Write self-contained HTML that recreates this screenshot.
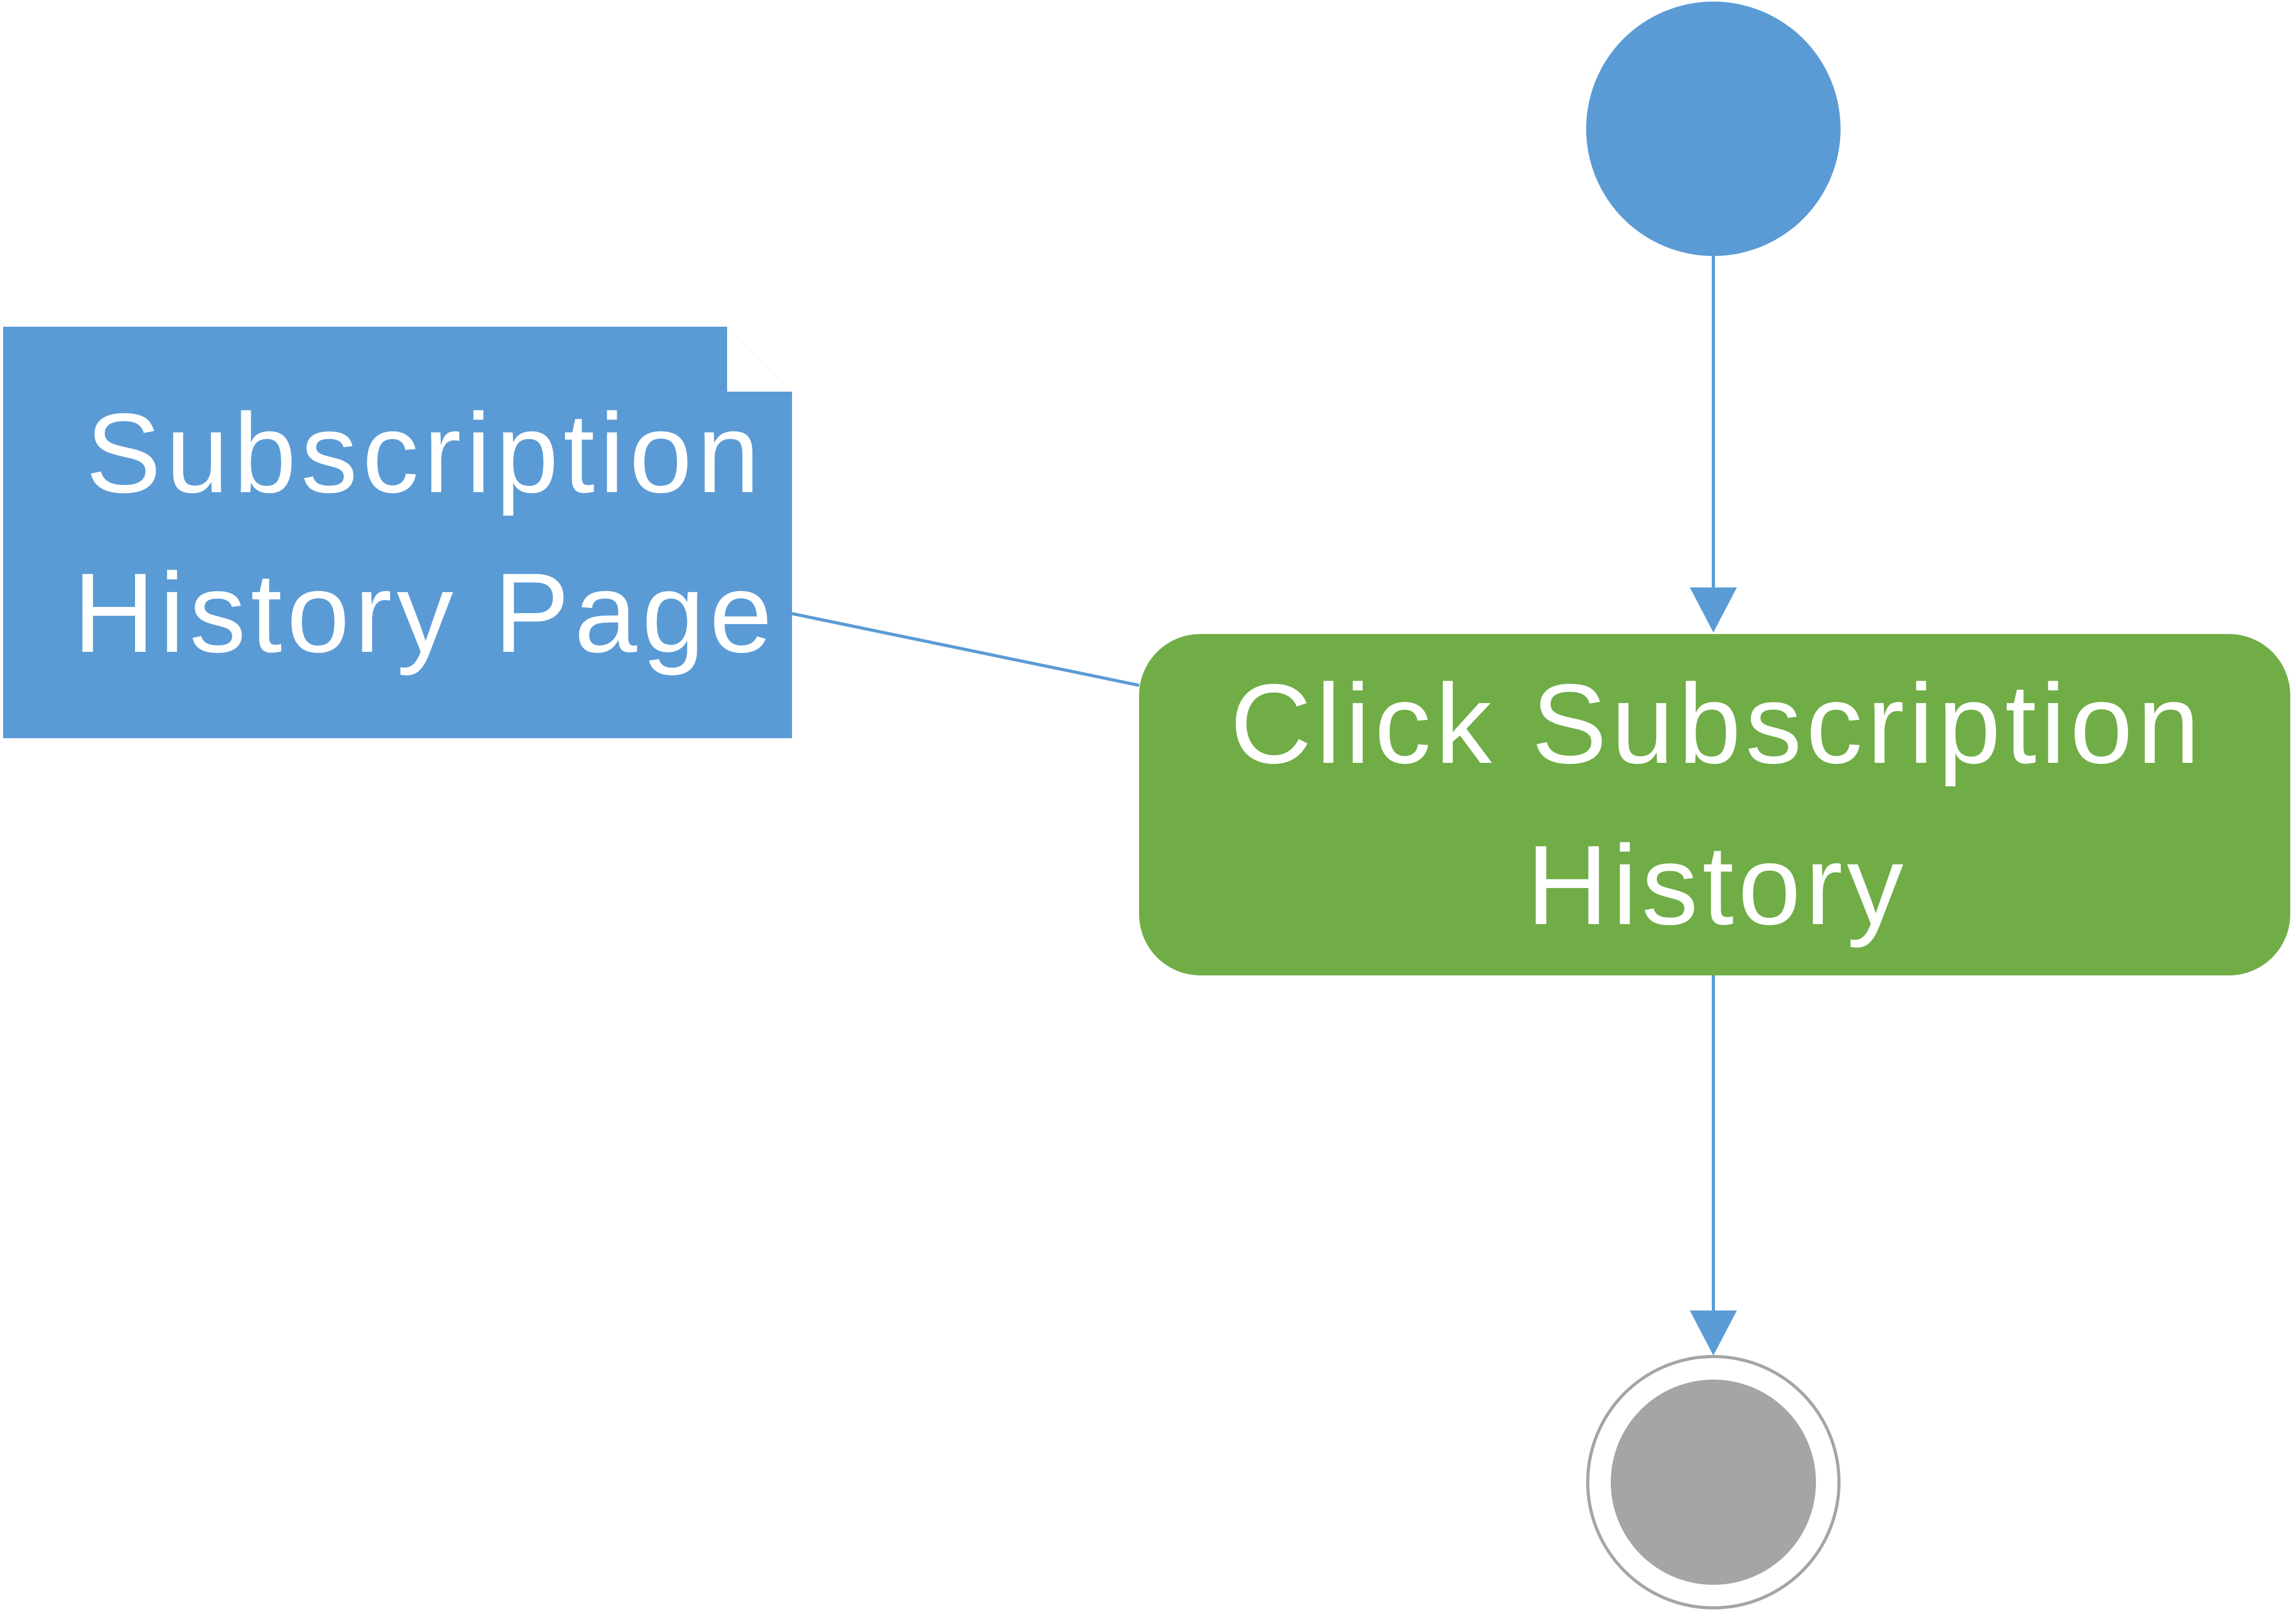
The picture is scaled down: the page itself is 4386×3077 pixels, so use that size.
<!DOCTYPE html>
<html><head><meta charset="utf-8"><style>html,body{margin:0;padding:0;background:#fff}svg{display:block}</style></head><body>
<svg width="4386" height="3077" viewBox="0 0 4386 3077" xmlns="http://www.w3.org/2000/svg" font-family="'Liberation Sans', sans-serif">
<circle cx="3273" cy="246" r="243" fill="#5b9bd5"/>
<line x1="3273" y1="489" x2="3273" y2="1125" stroke="#5b9bd5" stroke-width="6"/>
<polygon points="3228,1122 3318,1122 3273,1208" fill="#5b9bd5"/>
<path d="M6,624 H1387 L1513,750 V1410 H6 Z" fill="#5b9bd5"/>
<path d="M1387,624 V750 H1513" fill="#fff" stroke="#5b9bd5" stroke-width="4"/>
<text x="812" y="940" font-size="216" letter-spacing="9" fill="#fff" text-anchor="middle">Subscription</text>
<text x="812" y="1245" font-size="216" letter-spacing="9" fill="#fff" text-anchor="middle">History Page</text>
<line x1="1513" y1="1172" x2="2176" y2="1309" stroke="#5b9bd5" stroke-width="6"/>
<rect x="2176" y="1211" width="2199" height="652" rx="117" ry="117" fill="#70ad47"/>
<text x="3280" y="1457" font-size="216" letter-spacing="8" fill="#fff" text-anchor="middle">Click Subscription</text>
<text x="3280" y="1765" font-size="216" letter-spacing="8" fill="#fff" text-anchor="middle">History</text>
<line x1="3273" y1="1863" x2="3273" y2="2506" stroke="#5b9bd5" stroke-width="6"/>
<polygon points="3228,2503 3318,2503 3273,2589" fill="#5b9bd5"/>
<circle cx="3273" cy="2831" r="240" fill="#fff" stroke="#a5a5a5" stroke-width="6"/>
<circle cx="3273" cy="2831" r="196" fill="#a5a5a5"/>
</svg>
</body></html>
